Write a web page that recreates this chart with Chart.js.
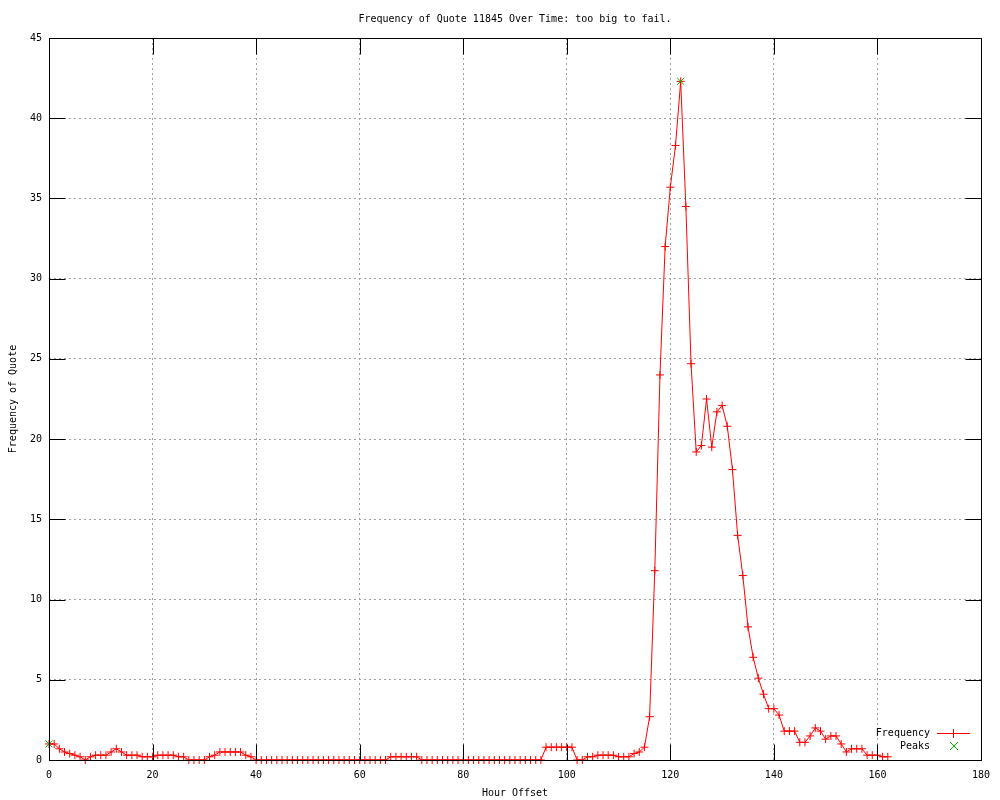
<!DOCTYPE html>
<html lang="en">
<head>
<meta charset="UTF-8">
<title>Frequency of Quote 11845 Over Time</title>
<script src="https://cdn.jsdelivr.net/npm/chart.js"></script>
<style>
  body { margin: 0; background: #fff; }
  canvas { display: block; }
</style>
</head>
<body>
<canvas id="grafico" width="1000" height="800"></canvas>
<script>
const titulo = 'Frequency of Quote 11845 Over Time: too big to fail.';
const tituloX = 'Hour Offset';
const tituloY = 'Frequency of Quote';

// one value per hour, starting at hour 0
const horaInicio = 0;
const frecuencia = [
  1.0, 1.0, 0.7, 0.5, 0.4, 0.3, 0.2, 0.0, 0.2, 0.3,
  0.3, 0.3, 0.5, 0.7, 0.5, 0.3, 0.3, 0.3, 0.2, 0.2,
  0.2, 0.3, 0.3, 0.3, 0.3, 0.2, 0.2, 0, 0, 0,
  0, 0.2, 0.3, 0.5, 0.5, 0.5, 0.5, 0.5, 0.3, 0.2,
  0, 0, 0, 0, 0, 0, 0, 0, 0, 0,
  0, 0, 0, 0, 0, 0, 0, 0, 0, 0,
  0, 0, 0, 0, 0, 0, 0.2, 0.2, 0.2, 0.2,
  0.2, 0.2, 0, 0, 0, 0, 0, 0, 0, 0,
  0, 0, 0, 0, 0, 0, 0, 0, 0, 0,
  0, 0, 0, 0, 0, 0, 0.8, 0.8, 0.8, 0.8,
  0.8, 0.8, 0, 0, 0.2, 0.2, 0.3, 0.3, 0.3, 0.3,
  0.2, 0.2, 0.2, 0.4, 0.5, 0.8, 2.7, 11.8, 24.0, 32.0,
  35.7, 38.3, 42.3, 34.5, 24.7, 19.2, 19.6, 22.5, 19.5, 21.7,
  22.1, 20.8, 18.1, 14.0, 11.5, 8.3, 6.4, 5.1, 4.1, 3.2,
  3.2, 2.8, 1.8, 1.8, 1.8, 1.1, 1.1, 1.5, 2.0, 1.8,
  1.3, 1.5, 1.5, 1.0, 0.5, 0.7, 0.7, 0.7, 0.3, 0.3,
  0.3, 0.2, 0.2
];

const picosHora = [0, 122];
const picosValor = [1.0, 42.3];

const xMin = 0, xMax = 180, xPaso = 20;
const yMin = 0, yMax = 45, yPaso = 5;

const ROJO = '#ff0000';
const VERDE = '#00c000';
const FUENTE = '10px "DejaVu Sans Mono"';

Chart.defaults.font.family = '"DejaVu Sans Mono", monospace';
Chart.defaults.font.size = 10;
Chart.defaults.color = '#000';

// border box, inward ticks (mirrored), titles and legend like gnuplot
const marco = {
  id: 'marco',
  afterDraw(chart) {
    const { ctx, chartArea: a, scales: { x, y } } = chart;
    ctx.save();
    ctx.strokeStyle = '#000';
    ctx.lineWidth = 1;
    const L = 16;
    const izq = Math.round(a.left) + 0.5, der = Math.round(a.right) + 0.5;
    const arr = Math.round(a.top) + 0.5, abj = Math.round(a.bottom) + 0.5;
    ctx.beginPath();
    x.ticks.forEach(t => {
      const px = Math.round(x.getPixelForValue(t.value)) + 0.5;
      ctx.moveTo(px, abj); ctx.lineTo(px, abj - L);
      ctx.moveTo(px, arr); ctx.lineTo(px, arr + L);
    });
    y.ticks.forEach(t => {
      const py = Math.round(y.getPixelForValue(t.value)) + 0.5;
      ctx.moveTo(izq, py); ctx.lineTo(izq + L, py);
      ctx.moveTo(der, py); ctx.lineTo(der - L, py);
    });
    ctx.stroke();
    ctx.strokeRect(izq, arr, der - izq, abj - arr);

    ctx.fillStyle = '#000';
    ctx.font = FUENTE;
    ctx.textBaseline = 'middle';
    ctx.textAlign = 'center';
    const cx = (a.left + a.right) / 2;
    ctx.fillText(titulo, cx, 19);
    ctx.fillText(tituloX, cx, 793);
    ctx.save();
    ctx.translate(13, (a.top + a.bottom) / 2);
    ctx.rotate(-Math.PI / 2);
    ctx.fillText(tituloY, 0, 0);
    ctx.restore();

    // legend
    ctx.textAlign = 'right';
    ctx.fillText('Frequency', 930, 733);
    ctx.fillText('Peaks', 930, 746);
    ctx.strokeStyle = ROJO;
    ctx.beginPath();
    ctx.moveTo(937, 733.5); ctx.lineTo(970, 733.5);
    ctx.moveTo(953.5, 729); ctx.lineTo(953.5, 738);
    ctx.moveTo(949, 733.5); ctx.lineTo(958, 733.5);
    ctx.stroke();
    ctx.strokeStyle = VERDE;
    ctx.beginPath();
    ctx.moveTo(950, 742); ctx.lineTo(958, 750);
    ctx.moveTo(958, 742); ctx.lineTo(950, 750);
    ctx.stroke();
    ctx.restore();
  }
};

const puntosFrecuencia = frecuencia.map((v, i) => ({ x: horaInicio + i, y: v }));
const puntosPicos = picosHora.map((h, i) => ({ x: h, y: picosValor[i] }));

new Chart(document.getElementById('grafico'), {
  type: 'scatter',
  data: {
    datasets: [
      {
        label: 'Peaks',
        data: puntosPicos,
        showLine: false,
        pointStyle: 'crossRot',
        pointRadius: 5,
        borderColor: VERDE,
        backgroundColor: VERDE,
        borderWidth: 1,
        clip: false
      },
      {
        label: 'Frequency',
        data: puntosFrecuencia,
        showLine: true,
        tension: 0,
        borderColor: ROJO,
        backgroundColor: ROJO,
        borderWidth: 1,
        pointStyle: 'cross',
        pointRadius: 4,
        pointBorderWidth: 1,
        clip: false
      }
    ]
  },
  options: {
    responsive: false,
    animation: false,
    events: [],
    layout: { padding: { top: 38, right: 19, left: 0, bottom: 0 } },
    plugins: {
      legend: { display: false },
      title: { display: false },
      tooltip: { enabled: false }
    },
    scales: {
      x: {
        type: 'linear',
        min: xMin,
        max: xMax,
        ticks: { stepSize: xPaso, padding: 9, maxRotation: 0, font: { size: 10 } },
        grid: { color: '#a0a0a0', drawTicks: false, lineWidth: 1 },
        border: { display: false, dash: [2, 3] },
        afterFit(s) { s.height = 40; }
      },
      y: {
        type: 'linear',
        min: yMin,
        max: yMax,
        ticks: { stepSize: yPaso, padding: 7, font: { size: 10 } },
        grid: { color: '#a0a0a0', drawTicks: false, lineWidth: 1 },
        border: { display: false, dash: [2, 3] },
        afterFit(s) { s.width = 49; }
      }
    }
  },
  plugins: [marco]
});
</script>
</body>
</html>
